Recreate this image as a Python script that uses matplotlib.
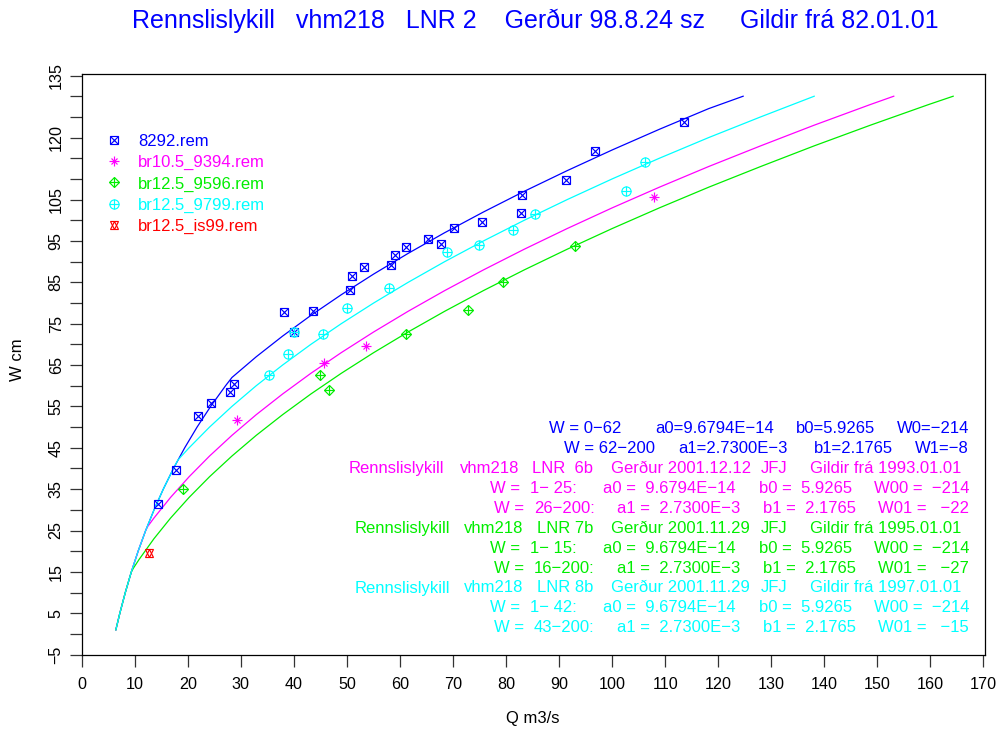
import matplotlib
matplotlib.use("Agg")
import matplotlib.pyplot as plt

plt.rcParams['font.family'] = ['Liberation Sans', 'DejaVu Sans']

# rating curves, W in cm and Q in m3/s
lnr2_w = [1, 5, 10, 15, 20, 25, 30, 35, 40, 45, 50, 55, 60, 62, 67, 72, 77, 82, 87, 92, 97, 102, 107, 112, 117, 122, 127, 130]
lnr2_q = [6.44, 7.19, 8.22, 9.36, 10.64, 12.06, 13.64, 15.38, 17.30, 19.42, 21.75, 24.31, 27.12, 28.33, 32.90, 37.87,
          43.20, 48.93, 55.04, 61.54, 68.43, 75.73, 83.42, 91.52, 100.0, 108.9, 118.2, 124.7]

lnr6b_w = [1, 5, 10, 15, 20, 25, 26, 28, 33, 38, 43, 48, 53, 58, 63, 68, 73, 78, 83, 88, 93, 98, 103, 108, 113, 118, 123, 128, 130]
lnr6b_q = [6.44, 7.19, 8.22, 9.36, 10.64, 12.06, 12.46, 13.61, 16.75, 20.25, 24.10, 28.32, 32.90, 37.87, 43.20, 48.93,
           55.04, 61.54, 68.43, 75.73, 83.42, 91.52, 100.0, 108.9, 118.2, 128.0, 138.1, 148.7, 153.1]

lnr7b_w = [1, 5, 10, 15, 16, 18, 23, 28, 33, 38, 43, 48, 53, 58, 63, 68, 73, 78, 83, 88, 93, 98, 103, 108, 113, 118, 123, 128, 130]
lnr7b_q = [6.44, 7.19, 8.22, 9.36, 9.80, 10.82, 13.61, 16.75, 20.25, 24.10, 28.32, 32.90, 37.87, 43.20, 48.93, 55.04,
           61.54, 68.43, 75.73, 83.42, 91.52, 100.0, 108.9, 118.2, 128.0, 138.1, 148.7, 159.7, 164.3]

lnr8b_w = [1, 5, 10, 15, 20, 25, 30, 35, 40, 42, 43, 45, 50, 55, 60, 65, 70, 75, 80, 85, 90, 95, 100, 105, 110, 115, 120, 125, 130]
lnr8b_q = [6.44, 7.19, 8.22, 9.36, 10.64, 12.06, 13.64, 15.38, 17.30, 18.12, 18.81, 20.25, 24.10, 28.32, 32.90, 37.87,
           43.20, 48.93, 55.04, 61.54, 68.43, 75.73, 83.42, 91.52, 100.0, 108.9, 118.2, 128.0, 138.1]

# measurements
m8292_q = [14.4, 17.8, 21.9, 24.4, 28.0, 28.7, 38.2, 40.0, 43.7, 50.6, 50.9, 53.3, 58.3, 59.1, 61.1, 65.3, 67.8,
           70.1, 75.4, 82.8, 83.0, 91.3, 96.8, 113.5]
m8292_w = [31.5, 39.6, 52.7, 55.8, 58.4, 60.4, 77.8, 73.0, 78.1, 83.1, 86.6, 88.6, 89.1, 91.7, 93.6, 95.6, 94.2,
           98.1, 99.7, 101.7, 106.2, 109.7, 116.7, 123.7]
m9394_q = [29.3, 45.7, 53.6, 107.9]
m9394_w = [51.7, 65.5, 69.6, 105.7]
m9596_q = [19.1, 44.9, 46.7, 61.1, 72.8, 79.4, 93.0]
m9596_w = [35.0, 62.6, 59.0, 72.6, 78.2, 85.2, 93.7]
m9799_q = [35.4, 38.8, 40.0, 45.5, 50.1, 58.0, 68.9, 74.9, 81.4, 85.4, 102.7, 106.2]
m9799_w = [62.6, 67.6, 73.0, 72.6, 78.9, 83.6, 92.3, 94.1, 97.7, 101.5, 107.2, 114.2]
mis99_q = [12.6]
mis99_w = [19.5]

legend_names = ['8292.rem', 'br10.5_9394.rem', 'br12.5_9596.rem', 'br12.5_9799.rem', 'br12.5_is99.rem']

x_ticks = list(range(0, 171, 10))
y_ticks = list(range(-5, 136, 5))
y_labelled = [-5, 5, 15, 25, 35, 45, 55, 65, 75, 85, 95, 105, 120, 135]

title = 'Rennslislykill   vhm218   LNR 2    Gerður 98.8.24 sz     Gildir frá 82.01.01'

lnr2_rows = [['W = 0−62', 'a0=9.6794E−14', 'b0=5.9265', 'W0=−214'],
             ['W = 62−200', 'a1=2.7300E−3', 'b1=2.1765', 'W1=−8']]
hdr_6b = ['Rennslislykill', 'vhm218', 'LNR  6b', 'Gerður 2001.12.12', 'JFJ', 'Gildir frá 1993.01.01']
rows_6b = [['W =', '1− 25:', 'a0 =  9.6794E−14', 'b0 =  5.9265', 'W00 =  −214'],
           ['W =', '26−200:', 'a1 =  2.7300E−3', 'b1 =  2.1765', 'W01 =   −22']]
hdr_7b = ['Rennslislykill', 'vhm218', 'LNR 7b', 'Gerður 2001.11.29', 'JFJ', 'Gildir frá 1995.01.01']
rows_7b = [['W =', '1− 15:', 'a0 =  9.6794E−14', 'b0 =  5.9265', 'W00 =  −214'],
           ['W =', '16−200:', 'a1 =  2.7300E−3', 'b1 =  2.1765', 'W01 =   −27']]
hdr_8b = ['Rennslislykill', 'vhm218', 'LNR 8b', 'Gerður 2001.11.29', 'JFJ', 'Gildir frá 1997.01.01']
rows_8b = [['W =', '1− 42:', 'a0 =  9.6794E−14', 'b0 =  5.9265', 'W00 =  −214'],
           ['W =', '43−200:', 'a1 =  2.7300E−3', 'b1 =  2.1765', 'W01 =   −15']]

BLUE, MAG, GRN, CYN, RED = '#0000FF', '#FF00FF', '#00EE00', '#00FFFF', '#FF0000'

FW, FH = 999, 735


def fx(px):
    return px / FW


def fy(py):
    return 1 - py / FH


def pch(ax, q, w, kind, color, **kw):
    # R style plotting symbols built from matplotlib markers
    parts = {
        'sqx': [('s', 6.2), ('x', 6.2)],
        'ast': [('+', 7.0), ('x', 5.0)],
        'dplus': [('D', 5.0), ('+', 7.2)],
        'oplus': [('o', 6.6), ('+', 6.6)],
        'star': [('^', 6.4), ('v', 6.4)],
    }[kind]
    for m, s in parts:
        ax.plot(q, w, ls='none', marker=m, ms=s, mfc='none', mec=color, mew=0.85, **kw)


fig = plt.figure(figsize=(9.99, 7.35), dpi=100)
ax = fig.add_axes([fx(81.7), fy(655), fx(985 - 81.7), (655 - 74.3) / FH])

for q, w, c in [(lnr2_q, lnr2_w, BLUE), (lnr6b_q, lnr6b_w, MAG), (lnr7b_q, lnr7b_w, GRN), (lnr8b_q, lnr8b_w, CYN)]:
    ax.plot(q, w, color=c, lw=0.9)

series = [(m8292_q, m8292_w, 'sqx', BLUE), (m9394_q, m9394_w, 'ast', MAG), (m9596_q, m9596_w, 'dplus', GRN),
          (m9799_q, m9799_w, 'oplus', CYN), (mis99_q, mis99_w, 'star', RED)]
for q, w, kind, c in series:
    pch(ax, q, w, kind, c)

ax.set_xlim(0, 170.3)
ax.set_ylim(-5.1, 135.3)
ax.set_xticks(x_ticks)
ax.set_xticklabels([str(v) for v in x_ticks])
ax.set_yticks(y_ticks)
ax.set_yticklabels([str(v).replace('-', '\u2212') if v in y_labelled else '' for v in y_ticks],
                   rotation=90, va='center', ha='right')
ax.tick_params(direction='out', length=8.3, width=0.9, labelsize=11.6, color='#333333')
ax.tick_params(axis='x', pad=7.5)
ax.tick_params(axis='y', pad=4.7)
for sp in ax.spines.values():
    sp.set_linewidth(0.9)

fig.text(fx(533), fy(718), 'Q m3/s', ha='center', va='center', fontsize=12)
fig.text(fx(17), fy(360), 'W cm', ha='center', va='center', rotation=90, fontsize=12)
fig.text(fx(535), fy(28.3), title, ha='center', va='baseline', fontsize=18, color=BLUE)

# legend
leg_y = [139.5, 160.9, 182.4, 203.8, 225.2]
for (q, w, kind, c), name, y in zip(series, legend_names, leg_y):
    pch(ax, [fx(114)], [fy(y)], kind, c, transform=fig.transFigure, clip_on=False)
    fig.text(fx(138.3), fy(y + 6), name, ha='left', va='baseline', fontsize=12, color=c)

# rating curve descriptions, last token of each row flush right
y0, dy = 427.3, 19.9
right_x = 969
blocks = [
    (BLUE, None, None, lnr2_rows, [[549, 655, 796], [564, 678, 814]]),
    (MAG, hdr_6b, [349, 460, 532, 611, 761, 810], rows_6b, [[490, 530, 603, 759], [494, 534, 617, 763]]),
    (GRN, hdr_7b, [355, 463.5, 537, 611, 761, 810], rows_7b, [[490, 530, 603, 759], [494, 534, 617, 763]]),
    (CYN, hdr_8b, [355, 463.5, 537, 611, 761, 810], rows_8b, [[490, 530, 603, 759], [494, 534, 617, 763]]),
]
line = 0
for color, hdr, hdr_x, rows, rows_x in blocks:
    if hdr is not None:
        for tok, x in zip(hdr, hdr_x):
            fig.text(fx(x), fy(y0 + line * dy + 6), tok, ha='left', va='baseline', fontsize=12, color=color)
        line += 1
    for row, xs in zip(rows, rows_x):
        for tok, x in zip(row[:-1], xs):
            fig.text(fx(x), fy(y0 + line * dy + 6), tok, ha='left', va='baseline', fontsize=12, color=color)
        fig.text(fx(right_x), fy(y0 + line * dy + 6), row[-1], ha='right', va='baseline', fontsize=12, color=color)
        line += 1

fig.savefig('out.png', dpi=100)
